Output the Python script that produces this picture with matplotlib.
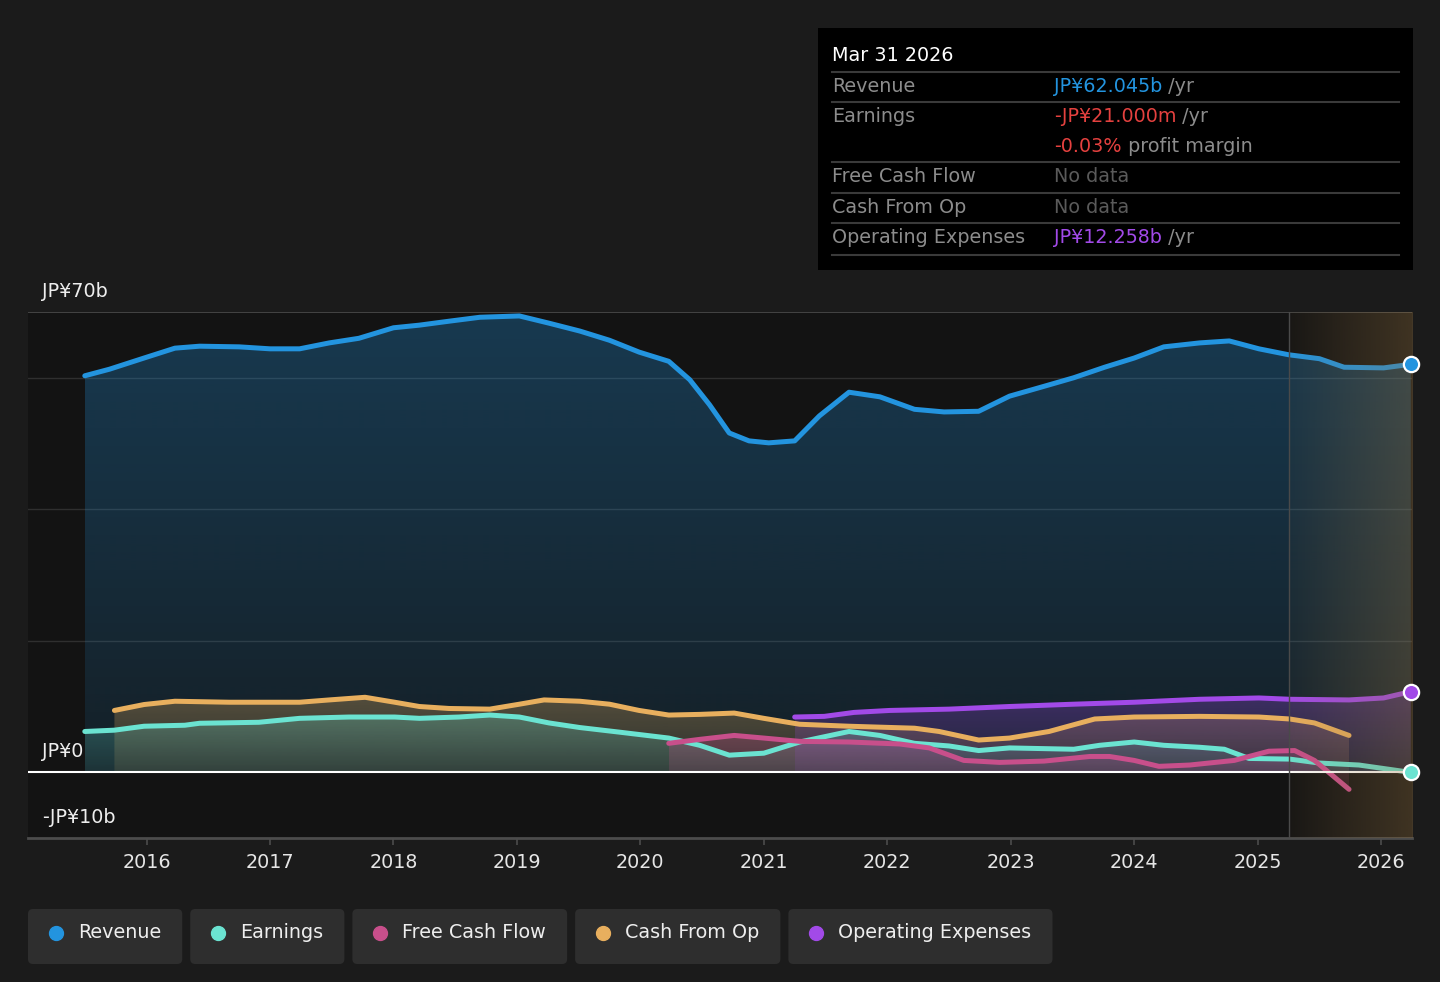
import numpy as np
import matplotlib
matplotlib.use('Agg')
import matplotlib.pyplot as plt
from matplotlib.patches import FancyBboxPatch, Rectangle
from matplotlib.transforms import blended_transform_factory

plt.rcParams['font.family'] = ['DejaVu Sans']

# ---- data (billions JPY, x in decimal years) ----
rev_t = [2015.50, 2015.70, 2015.98, 2016.23, 2016.43, 2016.75, 2017.00, 2017.24, 2017.48, 2017.72,
         2018.00, 2018.21, 2018.45, 2018.70, 2019.02, 2019.26, 2019.51, 2019.75, 2019.99, 2020.23,
         2020.40, 2020.56, 2020.72, 2020.88, 2021.04, 2021.25, 2021.45, 2021.69, 2021.94, 2022.22,
         2022.46, 2022.74, 2022.99, 2023.27, 2023.51, 2023.76, 2024.00, 2024.24, 2024.53, 2024.77,
         2025.01, 2025.25, 2025.50, 2025.70, 2026.02, 2026.24]
rev_v = [60.3, 61.3, 63.0, 64.5, 64.8, 64.7, 64.4, 64.4, 65.3, 66.0,
         67.6, 68.0, 68.6, 69.2, 69.4, 68.3, 67.1, 65.7, 63.9, 62.5,
         59.7, 55.9, 51.6, 50.4, 50.1, 50.4, 54.2, 57.8, 57.1, 55.2,
         54.8, 54.9, 57.2, 58.7, 60.0, 61.6, 63.0, 64.7, 65.3, 65.6,
         64.4, 63.5, 62.9, 61.6, 61.5, 62.045]

earn_t = [2015.50, 2015.74, 2015.98, 2016.31, 2016.43, 2016.91, 2017.24, 2017.64, 2018.01, 2018.21,
          2018.53, 2018.78, 2019.02, 2019.26, 2019.51, 2019.83, 2020.23, 2020.48, 2020.72, 2021.00,
          2021.29, 2021.69, 2021.94, 2022.22, 2022.50, 2022.74, 2022.99, 2023.51, 2023.72, 2024.00,
          2024.24, 2024.53, 2024.73, 2024.93, 2025.26, 2025.50, 2025.82, 2026.24]
earn_v = [6.2, 6.4, 7.0, 7.15, 7.45, 7.6, 8.2, 8.4, 8.4, 8.2,
          8.4, 8.7, 8.4, 7.5, 6.8, 6.1, 5.2, 4.1, 2.6, 2.9,
          4.6, 6.2, 5.6, 4.4, 4.0, 3.3, 3.7, 3.5, 4.1, 4.6,
          4.1, 3.8, 3.5, 2.1, 2.0, 1.4, 1.1, -0.021]

cfo_t = [2015.74, 2015.98, 2016.23, 2016.67, 2017.24, 2017.48, 2017.77, 2018.01, 2018.21, 2018.45,
         2018.78, 2019.02, 2019.22, 2019.51, 2019.75, 2019.99, 2020.23, 2020.48, 2020.76, 2021.00,
         2021.29, 2021.69, 2022.22, 2022.42, 2022.74, 2022.99, 2023.31, 2023.68, 2024.00, 2024.53,
         2025.01, 2025.26, 2025.46, 2025.74]
cfo_v = [9.4, 10.3, 10.8, 10.65, 10.65, 11.0, 11.4, 10.65, 10.0, 9.7,
         9.6, 10.35, 11.0, 10.8, 10.35, 9.4, 8.7, 8.8, 9.0, 8.2,
         7.3, 7.0, 6.7, 6.2, 4.9, 5.2, 6.2, 8.1, 8.4, 8.5,
         8.4, 8.1, 7.5, 5.6]

fcf_t = [2020.23, 2020.48, 2020.76, 2021.00, 2021.29, 2021.69, 2022.10, 2022.34, 2022.62, 2022.91,
         2023.27, 2023.64, 2023.80, 2024.00, 2024.20, 2024.45, 2024.81, 2025.09, 2025.30, 2025.46,
         2025.74]
fcf_v = [4.4, 5.0, 5.6, 5.2, 4.7, 4.6, 4.3, 3.7, 1.8, 1.5,
         1.7, 2.4, 2.4, 1.8, 0.9, 1.1, 1.8, 3.2, 3.3, 1.8,
         -2.6]

opex_t = [2021.25, 2021.49, 2021.73, 2022.02, 2022.50, 2022.99, 2023.51, 2024.00, 2024.53, 2025.01,
          2025.26, 2025.74, 2026.02, 2026.24]
opex_v = [8.4, 8.5, 9.1, 9.4, 9.6, 10.0, 10.35, 10.65, 11.1, 11.3,
          11.1, 11.0, 11.3, 12.258]

years = list(range(2016, 2027))
y_ticks = [70, 0, -10]
y_tick_labels = ['JP¥70b', 'JP¥0', '-JP¥10b']
forecast_start = 2025.25

names = ['Revenue', 'Earnings', 'Free Cash Flow', 'Cash From Op', 'Operating Expenses']
colors = ['#2394df', '#6be3d1', '#c84f8b', '#e8af5e', '#a24ae8']

tip_date = 'Mar 31 2026'
tip_rows = [
    ('Revenue', [('JP¥62.045b', '#2394df'), (' /yr', '#8c8c8c')]),
    ('Earnings', [('-JP¥21.000m', '#e5413f'), (' /yr', '#8c8c8c')]),
    ('', [('-0.03%', '#e5413f'), (' profit margin', '#8c8c8c')]),
    ('Free Cash Flow', [('No data', '#5a5a5a')]),
    ('Cash From Op', [('No data', '#5a5a5a')]),
    ('Operating Expenses', [('JP¥12.258b', '#a24ae8'), (' /yr', '#8c8c8c')]),
]

BG = '#1b1b1b'
PLOT_BG = '#131313'
FS = 13.8

fig = plt.figure(figsize=(14.4, 9.82), dpi=100, facecolor=BG)
ax = fig.add_axes([28 / 1440, 1 - 838 / 982, 1384 / 1440, 526 / 982])
ax.set_facecolor(PLOT_BG)
XMIN, XMAX = 2015.04, 2026.25
YMIN, YMAX = -10, 70


def gradient_fill(ax, t, v, color, a_top, a_bot, z):
    t = np.asarray(t)
    v = np.asarray(v)
    poly = ax.fill_between(t, v, 0, facecolor='none', edgecolor='none')
    rgb = matplotlib.colors.to_rgb(color)
    img = np.zeros((100, 1, 4))
    img[:, 0, :3] = rgb
    img[:, 0, 3] = np.linspace(a_bot, a_top, 100)
    lo = min(0, v.min())
    im = ax.imshow(img, aspect='auto', origin='lower', zorder=z,
                   extent=[t.min(), t.max(), lo, v.max()], interpolation='bilinear')
    im.set_clip_path(poly.get_paths()[0], transform=ax.transData)


gradient_fill(ax, rev_t, rev_v, colors[0], 0.30, 0.10, 1)
gradient_fill(ax, cfo_t, cfo_v, colors[3], 0.30, 0.12, 1.1)
gradient_fill(ax, earn_t, earn_v, colors[1], 0.28, 0.10, 1.2)
gradient_fill(ax, fcf_t, fcf_v, colors[2], 0.30, 0.12, 1.3)
gradient_fill(ax, opex_t, opex_v, colors[4], 0.30, 0.10, 1.4)

lw = 3.6
style = dict(lw=lw, solid_capstyle='round', solid_joinstyle='round')
ax.plot(cfo_t, cfo_v, color=colors[3], zorder=3, **style)
ax.plot(earn_t, earn_v, color=colors[1], zorder=3.1, **style)
ax.plot(fcf_t, fcf_v, color=colors[2], zorder=3.2, **style)
ax.plot(opex_t, opex_v, color=colors[4], zorder=3.3, **style)
ax.plot(rev_t, rev_v, color=colors[0], zorder=3.4, **style)

# end markers
for t, v, c in [(rev_t, rev_v, colors[0]), (opex_t, opex_v, colors[4]), (earn_t, earn_v, colors[1])]:
    ax.plot(t[-1], v[-1], 'o', ms=11, mfc=c, mec='white', mew=1.6, zorder=7, clip_on=False)

# forecast shading
grad = np.zeros((1, 100, 4))
grad[0, :, :3] = matplotlib.colors.to_rgb('#967341')
grad[0, :, 3] = np.linspace(0.05, 0.34, 100)
ax.imshow(grad, aspect='auto', extent=[forecast_start, XMAX, YMIN, YMAX], zorder=5,
          interpolation='bilinear')
ax.axvline(forecast_start, color='#4a4a4a', lw=1, zorder=5.1)

# grid & zero line
for g in [20, 40, 60]:
    ax.axhline(g, color='#2f2f2f', lw=1, zorder=0.5)
ax.axhline(70, color='#4c4c4c', lw=1.2, zorder=0.5)
ax.axhline(0, color='white', lw=1.5, zorder=4)

ax.set_xlim(XMIN, XMAX)
ax.set_ylim(YMIN, YMAX)
for s in ['top', 'right', 'left']:
    ax.spines[s].set_visible(False)
ax.spines['bottom'].set_color('#4c4c4c')
ax.spines['bottom'].set_linewidth(2)
ax.set_yticks([])
ax.set_xticks(years)
ax.set_xticklabels([str(y) for y in years])
ax.tick_params(axis='x', colors='#4c4c4c', length=5, width=1.2, labelcolor='#e6e6e6',
               labelsize=FS, pad=6)

tr = blended_transform_factory(ax.transAxes, ax.transData)
for v, lab in zip(y_ticks, y_tick_labels):
    ax.text(0.0101, v + 3.1, lab, transform=tr, color='#eeeeee', fontsize=FS, va='center',
            ha='left', zorder=8)

# overlay axes in pixel units for tooltip & legend
ov = fig.add_axes([0, 0, 1, 1], zorder=10)
ov.set_xlim(0, 1440)
ov.set_ylim(982, 0)
ov.axis('off')
ov.patch.set_alpha(0)

ov.add_patch(Rectangle((818, 28), 595, 242, facecolor='black', edgecolor='none'))
ov.text(832, 55, tip_date, color='white', fontsize=FS, va='center', ha='left')
sep_y = [72, 102, 162, 193, 223, 255]
for sy in sep_y:
    ov.plot([832, 1399], [sy, sy], color='#3a3a3a', lw=1.5)
row_y = [86, 116, 146, 176, 207, 237]

fig.canvas.draw()
renderer = fig.canvas.get_renderer()


def width_px(txt):
    return txt.get_window_extent(renderer).width


for (label, parts), ry in zip(tip_rows, row_y):
    if label:
        ov.text(832, ry, label, color='#8c8c8c', fontsize=FS, va='center', ha='left')
    x = 1054
    for s, c in parts:
        tt = ov.text(x, ry, s, color=c, fontsize=FS, va='center', ha='left')
        x += width_px(tt)

# legend pills
x = 28
for name, c in zip(names, colors):
    tt = ov.text(x + 50, 933, name, color='#eeeeee', fontsize=FS, va='center', ha='left', zorder=12)
    w = 50 + width_px(tt) + 21
    ov.add_patch(FancyBboxPatch((x, 909), w, 55, boxstyle='round,pad=0,rounding_size=5',
                                facecolor='#2e2e2e', edgecolor='none', zorder=11))
    ov.plot(x + 28, 933, 'o', ms=10, color=c, zorder=12)
    x += w + 8

fig.savefig('out.png', dpi=100, facecolor=BG)
